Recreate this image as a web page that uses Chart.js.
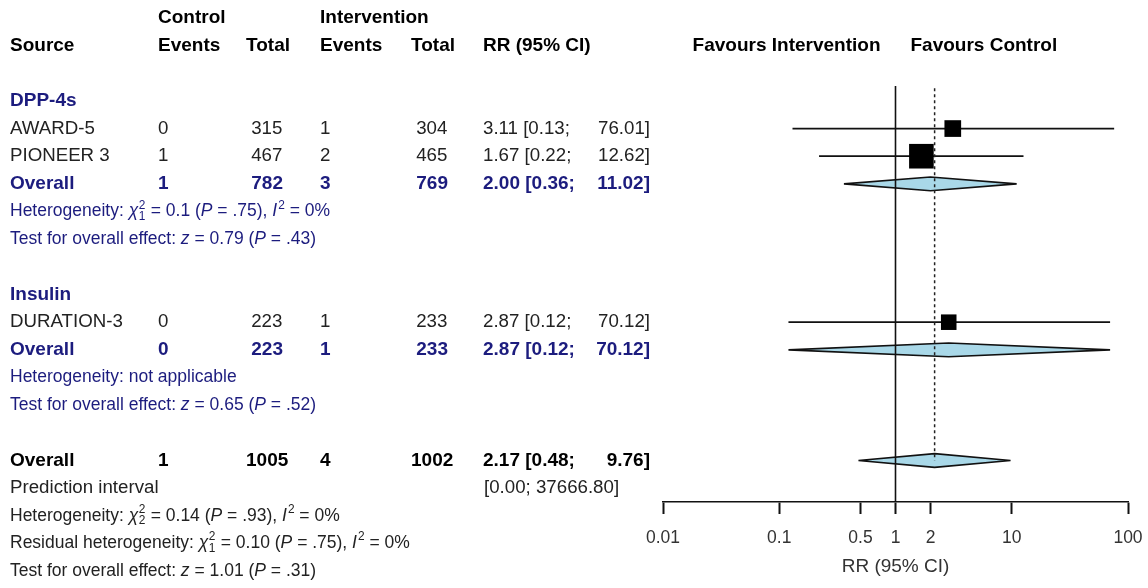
<!DOCTYPE html>
<html>
<head>
<meta charset="utf-8">
<script src="https://cdn.jsdelivr.net/npm/chart.js@4.4.1/dist/chart.umd.min.js"></script>
<style>
  html, body { margin: 0; padding: 0; background: #fff; }
  #wrap { position: relative; width: 1148px; height: 588px; }
</style>
</head>
<body>
<div id="wrap"><canvas id="forest"></canvas></div>
<script>
// ---------- study data ----------
const studyNames  = ['AWARD-5', 'PIONEER 3', 'DURATION-3'];
const studyGroups = ['DPP-4s', 'DPP-4s', 'Insulin'];
const ctrlEvents  = [0, 1, 0];
const ctrlTotal   = [315, 467, 223];
const intEvents   = [1, 2, 1];
const intTotal    = [304, 465, 233];
const studyRR     = [3.11, 1.67, 2.87];
const studyLow    = [0.13, 0.22, 0.12];
const studyHigh   = [76.01, 12.62, 70.12];

// ---------- subgroup summaries ----------
const groupNames      = ['DPP-4s', 'Insulin'];
const groupCtrlEvents = [1, 0];
const groupCtrlTotal  = [782, 223];
const groupIntEvents  = [3, 1];
const groupIntTotal   = [769, 233];
const groupRR         = [2.00, 2.87];
const groupLow        = [0.36, 0.12];
const groupHigh       = [11.02, 70.12];
const groupHetText = [
  ['Heterogeneity: ', ['χ', 'i'], ['2|1', 'supsub'], ' = 0.1 (', ['P', 'i'], ' = .75), ', ['I', 'i'], ['2', 'sup'], ' = 0%'],
  ['Heterogeneity: not applicable']
];
const groupTestText = [
  ['Test for overall effect: ', ['z', 'i'], ' = 0.79 (', ['P', 'i'], ' = .43)'],
  ['Test for overall effect: ', ['z', 'i'], ' = 0.65 (', ['P', 'i'], ' = .52)']
];

// ---------- overall summary ----------
const overallCtrlEvents = [1];
const overallCtrlTotal  = [1005];
const overallIntEvents  = [4];
const overallIntTotal   = [1002];
const overallRR         = [2.17];
const overallLow        = [0.48];
const overallHigh       = [9.76];
const predictionInterval = [0.00, 37666.80];
const overallHetText   = ['Heterogeneity: ', ['χ', 'i'], ['2|2', 'supsub'], ' = 0.14 (', ['P', 'i'], ' = .93), ', ['I', 'i'], ['2', 'sup'], ' = 0%'];
const residualHetText  = ['Residual heterogeneity: ', ['χ', 'i'], ['2|1', 'supsub'], ' = 0.10 (', ['P', 'i'], ' = .75), ', ['I', 'i'], ['2', 'sup'], ' = 0%'];
const overallTestText  = ['Test for overall effect: ', ['z', 'i'], ' = 1.01 (', ['P', 'i'], ' = .31)'];

// ---------- axis ----------
const axisTicks      = [0.01, 0.1, 0.5, 1, 2, 10, 100];
const axisTickLabels = ['0.01', '0.1', '0.5', '1', '2', '10', '100'];
const axisTitle      = 'RR (95% CI)';
const favoursLeft    = 'Favours Intervention';
const favoursRight   = 'Favours Control';

// ---------- styling ----------
const FONT = "'Liberation Sans', Arial, Helvetica, sans-serif";
const NAVY = '#1c1c7e';
const INK = '#222';
const SIZE_ROW = 18.7, SIZE_BOLD = 19, SIZE_NOTE = 17.5;
const COL = { src: 10, ce: 158, cn: 246, ie: 320, in: 411, rr: 483, rrEnd: 650 };
const squareRadius = { 'AWARD-5': 11.8, 'PIONEER 3': 17.4, 'DURATION-3': 11.0 };
const DIAMOND_HALF = 0.25;   // half height of a summary diamond, in rows

// ---------- row layout ----------
const rows = { head1: 0, head2: 1, group: [], study: [], pooled: [], het: [], test: [] };
let r = 3;
groupNames.forEach((g, gi) => {
  rows.group[gi] = r++;
  studyNames.forEach((s, si) => { if (studyGroups[si] === g) rows.study[si] = r++; });
  rows.pooled[gi] = r++;
  rows.het[gi] = r++;
  rows.test[gi] = r++;
  r++;
});
rows.overall = r++;
rows.pred = r++;
rows.overallHet = r++;
rows.residHet = r++;
rows.overallTest = r++;

const LINE_TOP = 2.46;      // upper end of the reference line
const AXIS_ROW = 17.5;      // row value at the axis

// ---------- datasets ----------
const datasets = [];

// study squares
datasets.push({
  type: 'scatter',
  data: studyNames.map((s, i) => ({ x: studyRR[i], y: rows.study[i] })),
  pointStyle: 'rect',
  pointRadius: studyNames.map(s => squareRadius[s]),
  pointHoverRadius: studyNames.map(s => squareRadius[s]),
  backgroundColor: '#000',
  borderWidth: 0,
  order: 0
});

// no-effect line and pooled-estimate line
datasets.push({
  type: 'line',
  data: [{ x: 1, y: LINE_TOP }, { x: 1, y: AXIS_ROW }],
  borderColor: '#111', borderWidth: 1.6, pointRadius: 0, order: 1
});
datasets.push({
  type: 'line',
  data: [{ x: overallRR[0], y: LINE_TOP + 0.08 }, { x: overallRR[0], y: rows.overall }],
  borderColor: '#222', borderWidth: 1.5, borderDash: [3, 3], pointRadius: 0, order: 1
});

// confidence interval whiskers
studyNames.forEach((s, i) => {
  datasets.push({
    type: 'line',
    data: [{ x: studyLow[i], y: rows.study[i] }, { x: studyHigh[i], y: rows.study[i] }],
    borderColor: '#111', borderWidth: 1.7, pointRadius: 0, order: 2
  });
});

// summary diamonds
function diamond(est, lo, hi, row) {
  return [
    { x: lo, y: row }, { x: est, y: row - DIAMOND_HALF },
    { x: hi, y: row }, { x: est, y: row + DIAMOND_HALF }, { x: lo, y: row }
  ];
}
const summaries = groupNames.map((g, gi) => diamond(groupRR[gi], groupLow[gi], groupHigh[gi], rows.pooled[gi]));
summaries.push(diamond(overallRR[0], overallLow[0], overallHigh[0], rows.overall));
summaries.forEach(d => {
  datasets.push({
    type: 'line', data: d, fill: 'shape',
    backgroundColor: '#a9d8e8', borderColor: '#111', borderWidth: 1.6,
    pointRadius: 0, tension: 0, order: 3
  });
});

// ---------- text drawing ----------
function drawSegs(ctx, x, y, segs, px, bold, color) {
  const w = bold ? 'bold ' : '';
  ctx.fillStyle = color;
  ctx.textBaseline = 'middle';
  ctx.textAlign = 'left';
  let cx = x;
  for (const seg of segs) {
    const [t, st] = Array.isArray(seg) ? seg : [seg, ''];
    if (st === 'supsub') {
      const [a, b] = t.split('|');
      ctx.font = `${w}${px * 0.68}px ${FONT}`;
      ctx.fillText(a, cx + 0.5, y - px * 0.36);
      ctx.fillText(b, cx + 0.5, y + px * 0.3);
      cx += Math.max(ctx.measureText(a).width, ctx.measureText(b).width) + 1;
    } else if (st === 'sup') {
      ctx.font = `${w}${px * 0.68}px ${FONT}`;
      ctx.fillText(t, cx + 1, y - px * 0.36);
      cx += ctx.measureText(t).width + 1;
    } else {
      ctx.font = `${st === 'i' ? 'italic ' : ''}${w}${px}px ${FONT}`;
      ctx.fillText(t, cx, y);
      cx += ctx.measureText(t).width;
    }
  }
}
function txt(ctx, s, x, y, px, bold, color, align) {
  ctx.font = `${bold ? 'bold ' : ''}${px}px ${FONT}`;
  ctx.fillStyle = color;
  ctx.textBaseline = 'middle';
  ctx.textAlign = align || 'left';
  ctx.fillText(s, x, y);
}
// pad a column of counts to a common width with leading spaces
function padCol(values) {
  const len = Math.max(...values.map(v => String(v).length));
  return values.map(v => String(v).padStart(len, ' '));
}
const allCE = padCol([...ctrlEvents, ...groupCtrlEvents, ...overallCtrlEvents]);
const allCN = padCol([...ctrlTotal, ...groupCtrlTotal, ...overallCtrlTotal]);
const allIE = padCol([...intEvents, ...groupIntEvents, ...overallIntEvents]);
const allIN = padCol([...intTotal, ...groupIntTotal, ...overallIntTotal]);

function rowCells(ctx, y, idx, px, bold, color) {
  txt(ctx, allCE[idx], COL.ce, y, px, bold, color);
  txt(ctx, allCN[idx], COL.cn, y, px, bold, color);
  txt(ctx, allIE[idx], COL.ie, y, px, bold, color);
  txt(ctx, allIN[idx], COL.in, y, px, bold, color);
}
function rrCells(ctx, y, est, lo, hi, px, bold, color) {
  txt(ctx, `${est.toFixed(2)} [${lo.toFixed(2)};`, COL.rr, y, px, bold, color);
  txt(ctx, `${hi.toFixed(2)}]`, COL.rrEnd, y, px, bold, color, 'right');
}

const tablePlugin = {
  id: 'forestTable',
  afterDraw(chart) {
    const ctx = chart.ctx;
    const Y = v => chart.scales.y.getPixelForValue(v);
    const X = v => chart.scales.x.getPixelForValue(v);
    ctx.save();
    // headers
    const h1 = Y(rows.head1), h2 = Y(rows.head2);
    txt(ctx, 'Control', COL.ce, h1, SIZE_BOLD, true, '#000');
    txt(ctx, 'Intervention', COL.ie, h1, SIZE_BOLD, true, '#000');
    txt(ctx, 'Source', COL.src, h2, SIZE_BOLD, true, '#000');
    txt(ctx, 'Events', COL.ce, h2, SIZE_BOLD, true, '#000');
    txt(ctx, 'Total', COL.cn, h2, SIZE_BOLD, true, '#000');
    txt(ctx, 'Events', COL.ie, h2, SIZE_BOLD, true, '#000');
    txt(ctx, 'Total', COL.in, h2, SIZE_BOLD, true, '#000');
    txt(ctx, 'RR (95% CI)', COL.rr, h2, SIZE_BOLD, true, '#000');
    txt(ctx, favoursLeft, X(1) - 15, h2, SIZE_BOLD, true, '#000', 'right');
    txt(ctx, favoursRight, X(1) + 15, h2, SIZE_BOLD, true, '#000', 'left');

    const nS = studyNames.length, nG = groupNames.length;
    groupNames.forEach((g, gi) => {
      txt(ctx, g, COL.src, Y(rows.group[gi]), SIZE_BOLD, true, NAVY);
      studyNames.forEach((s, si) => {
        if (studyGroups[si] !== g) return;
        const y = Y(rows.study[si]);
        txt(ctx, s, COL.src, y, SIZE_ROW, false, INK);
        rowCells(ctx, y, si, SIZE_ROW, false, INK);
        rrCells(ctx, y, studyRR[si], studyLow[si], studyHigh[si], SIZE_ROW, false, INK);
      });
      const yp = Y(rows.pooled[gi]);
      txt(ctx, 'Overall', COL.src, yp, SIZE_BOLD, true, NAVY);
      rowCells(ctx, yp, nS + gi, SIZE_BOLD, true, NAVY);
      rrCells(ctx, yp, groupRR[gi], groupLow[gi], groupHigh[gi], SIZE_BOLD, true, NAVY);
      drawSegs(ctx, COL.src, Y(rows.het[gi]), groupHetText[gi], SIZE_NOTE, false, NAVY);
      drawSegs(ctx, COL.src, Y(rows.test[gi]), groupTestText[gi], SIZE_NOTE, false, NAVY);
    });

    const yo = Y(rows.overall);
    txt(ctx, 'Overall', COL.src, yo, SIZE_BOLD, true, '#000');
    rowCells(ctx, yo, nS + nG, SIZE_BOLD, true, '#000');
    rrCells(ctx, yo, overallRR[0], overallLow[0], overallHigh[0], SIZE_BOLD, true, '#000');
    const ypi = Y(rows.pred);
    txt(ctx, 'Prediction interval', COL.src, ypi, SIZE_ROW, false, INK);
    txt(ctx, `[${predictionInterval[0].toFixed(2)}; ${predictionInterval[1].toFixed(2)}]`, COL.rr + 1, ypi, SIZE_ROW, false, INK);
    drawSegs(ctx, COL.src, Y(rows.overallHet), overallHetText, SIZE_NOTE, false, INK);
    drawSegs(ctx, COL.src, Y(rows.residHet), residualHetText, SIZE_NOTE, false, INK);
    drawSegs(ctx, COL.src, Y(rows.overallTest), overallTestText, SIZE_NOTE, false, INK);
    ctx.restore();
  }
};

new Chart(document.getElementById('forest'), {
  type: 'scatter',
  data: { datasets },
  options: {
    responsive: true,
    maintainAspectRatio: false,
    animation: false,
    events: [],
    layout: { padding: { left: 663, right: 20, top: 17.9, bottom: 0 } },
    plugins: { legend: { display: false }, tooltip: { enabled: false } },
    scales: {
      x: {
        type: 'logarithmic',
        position: 'bottom',
        min: 0.01,
        max: 100,
        afterBuildTicks: s => { s.ticks = axisTicks.map(v => ({ value: v })); },
        afterFit: s => { s.height = 86; s.paddingLeft = 0; s.paddingRight = 0; },
        grid: { display: true, drawOnChartArea: false, drawTicks: true, tickLength: 12, tickWidth: 2, tickColor: '#111', color: '#111' },
        border: { display: true, color: '#111', width: 1.6 },
        ticks: {
          autoSkip: false, maxRotation: 0, padding: 13.5, color: '#333',
          font: { family: FONT, size: 17.5 },
          callback: v => axisTickLabels[axisTicks.indexOf(v)]
        },
        title: {
          display: true, text: axisTitle, color: '#333',
          font: { family: FONT, size: 19 }, padding: { top: 0, bottom: 9.6 }
        }
      },
      y: {
        type: 'linear', display: false, reverse: true, min: 0, max: AXIS_ROW
      }
    }
  },
  plugins: [tablePlugin]
});
</script>
</body>
</html>
